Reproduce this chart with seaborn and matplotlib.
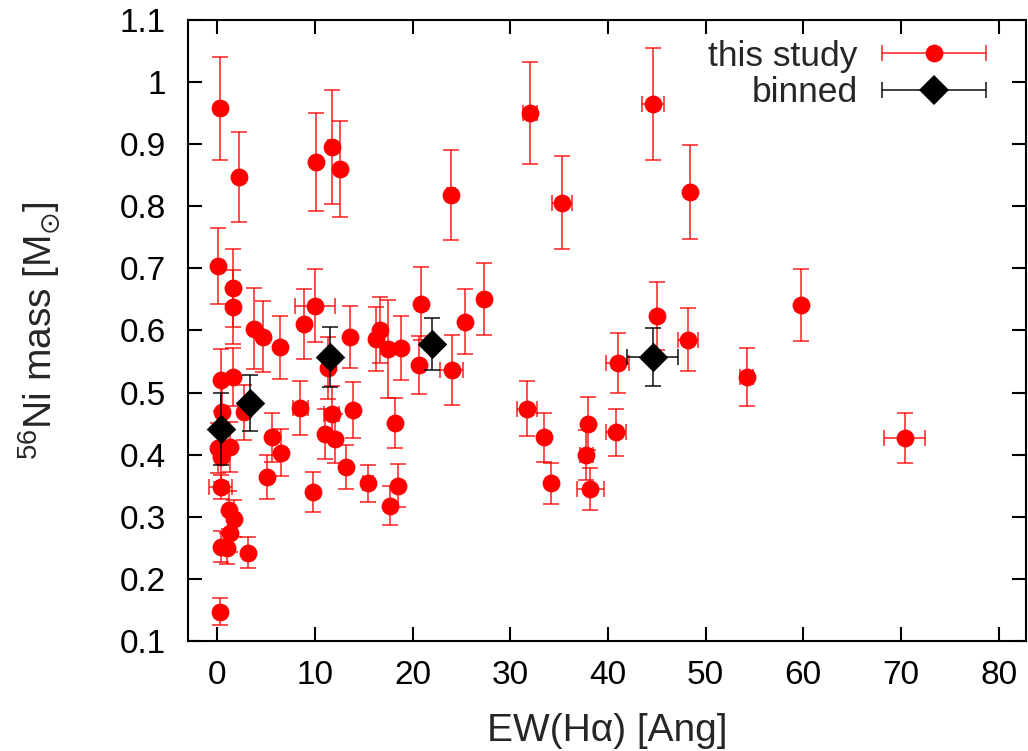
import matplotlib
matplotlib.use("Agg")
import numpy as np
import pandas as pd
import matplotlib.pyplot as plt
import seaborn as sns
from matplotlib.container import ErrorbarContainer
from matplotlib.legend_handler import HandlerErrorbar
from matplotlib.lines import Line2D
from matplotlib.ticker import FuncFormatter

# ---------------------------------------------------------------------------
# Data
# ---------------------------------------------------------------------------

ew = [
    0.3, 2.2, 10.1, 11.7, 12.6, 23.9, 32.0, 35.3, 44.6, 48.4,
    0.05, 1.6, 1.6, 3.8, 4.7, 6.4, 8.9, 10.0, 13.6, 16.2,
    16.7, 17.5, 18.8, 20.9, 20.7, 24.0, 25.4, 27.3, 11.3, 0.35,
    1.6, 8.5, 0.5, 2.7, 0.1, 1.3, 0.4, 5.6, 6.5, 5.1,
    9.8, 0.35, 1.2, 1.7, 1.3, 0.35, 0.95, 3.1, 0.25, 11.7,
    13.9, 11.0, 12.1, 13.2, 18.2, 15.4, 18.5, 17.7, 31.7, 33.5,
    34.2, 38.0, 37.8, 38.2, 40.8, 41.0, 45.0, 48.2, 54.2, 59.8,
    70.4,
]
ni = [
    0.958, 0.847, 0.871, 0.896, 0.860, 0.818, 0.950, 0.806, 0.965, 0.823,
    0.704, 0.668, 0.638, 0.603, 0.590, 0.573, 0.610, 0.640, 0.590, 0.586,
    0.601, 0.570, 0.572, 0.643, 0.544, 0.536, 0.614, 0.651, 0.540, 0.520,
    0.525, 0.475, 0.469, 0.468, 0.411, 0.412, 0.396, 0.428, 0.403, 0.364,
    0.340, 0.348, 0.311, 0.297, 0.274, 0.252, 0.249, 0.242, 0.147, 0.466,
    0.472, 0.433, 0.426, 0.380, 0.451, 0.354, 0.350, 0.318, 0.474, 0.428,
    0.354, 0.450, 0.400, 0.345, 0.436, 0.548, 0.623, 0.585, 0.525, 0.641,
    0.427,
]
ew_err = [
    0.2, 0.3, 0.2, 0.4, 0.2, 0.4, 0.7, 1.0, 1.1, 0.2,
    0.2, 0.2, 0.2, 0.2, 0.2, 0.2, 0.2, 2.0, 0.2, 0.2,
    0.2, 0.2, 0.2, 0.2, 0.2, 1.2, 0.2, 0.2, 0.2, 0.2,
    0.2, 0.8, 0.2, 0.2, 0.2, 0.2, 0.2, 0.2, 0.2, 0.2,
    0.2, 1.2, 0.2, 0.2, 0.2, 0.2, 0.2, 0.2, 0.2, 0.8,
    0.2, 0.2, 0.2, 0.2, 0.2, 0.5, 0.2, 0.2, 1.0, 0.2,
    0.2, 0.2, 0.7, 1.4, 1.0, 1.2, 0.2, 1.0, 0.7, 0.2,
    2.1,
]
ni_err = [
    0.083, 0.073, 0.079, 0.092, 0.077, 0.072, 0.082, 0.075, 0.090, 0.075,
    0.061, 0.063, 0.060, 0.065, 0.057, 0.051, 0.056, 0.059, 0.050, 0.052,
    0.053, 0.079, 0.051, 0.059, 0.047, 0.056, 0.052, 0.058, 0.050, 0.050,
    0.047, 0.044, 0.050, 0.045, 0.040, 0.040, 0.040, 0.039, 0.038, 0.036,
    0.032, 0.020, 0.030, 0.030, 0.030, 0.025, 0.025, 0.025, 0.022, 0.045,
    0.045, 0.040, 0.040, 0.035, 0.040, 0.030, 0.035, 0.032, 0.044, 0.039,
    0.033, 0.043, 0.040, 0.034, 0.038, 0.048, 0.055, 0.051, 0.047, 0.058,
    0.040,
]

bin_ew = [0.35, 3.3, 11.5, 22.0, 44.6]
bin_ni = [0.441, 0.483, 0.557, 0.578, 0.557]
bin_ew_err = [0.3, 0.2, 0.2, 0.2, 2.6]
bin_ni_err = [0.058, 0.045, 0.048, 0.042, 0.047]

RED = "#ff0000"
TICK_FS = 24
LABEL_FS = 28
LEGEND_FS = 25.5

df = pd.DataFrame({"ew": ew, "ni": ni, "ew_err": ew_err, "ni_err": ni_err})
df_bin = pd.DataFrame({"ew": bin_ew, "ni": bin_ni,
                       "ew_err": bin_ew_err, "ni_err": bin_ni_err})

sns.set_theme(style="ticks")
plt.rcParams["font.family"] = ["Liberation Sans", "DejaVu Sans"]
plt.rcParams["mathtext.default"] = "regular"

fig = plt.figure(figsize=(10.28, 7.51), dpi=100)
ax = fig.add_axes([0.1829, 0.1465, 0.8151, 0.8269])

# error bars first, markers on top
eb_red = ax.errorbar(df["ew"], df["ni"], xerr=df["ew_err"], yerr=df["ni_err"],
                     fmt="none", ecolor=RED, elinewidth=1.3, capsize=5.5,
                     capthick=1.3, alpha=0.75, zorder=2)
sns.scatterplot(data=df, x="ew", y="ni", color=RED, s=165, marker="o",
                linewidth=0, ax=ax, zorder=3, legend=False)

eb_bin = ax.errorbar(df_bin["ew"], df_bin["ni"], xerr=df_bin["ew_err"],
                     yerr=df_bin["ni_err"], fmt="none", ecolor="black",
                     elinewidth=1.3, capsize=5.5, capthick=1.3, alpha=0.8,
                     zorder=4)
sns.scatterplot(data=df_bin, x="ew", y="ni", color="black", s=225, marker="D",
                linewidth=0, ax=ax, zorder=5, legend=False)

ax.set_xlim(-3, 82.8)
ax.set_ylim(0.1, 1.1)
ax.set_xticks(np.arange(0, 81, 10))
ax.set_yticks(np.arange(0.1, 1.101, 0.1))
ax.yaxis.set_major_formatter(FuncFormatter(lambda v, _: f"{v:g}"))
ax.tick_params(direction="in", top=True, right=True, length=10, width=1.5,
               labelsize=TICK_FS, color="black", labelcolor="black")
ax.tick_params(axis="x", pad=14)
ax.tick_params(axis="y", pad=16)
for sp in ax.spines.values():
    sp.set_linewidth(1.5)
    sp.set_color("black")

ax.set_xlabel("EW(H\u03b1) [Ang]", fontsize=LABEL_FS, labelpad=15.5)
ax.set_ylabel("$^{56}$Ni mass [M$_{\\odot}$]", fontsize=LABEL_FS, labelpad=41)

# legend: gnuplot-style samples (horizontal bar with caps, marker centred)
red_mk = Line2D([], [], ls="none", marker="o", ms=12.8, color=RED, mew=0)
blk_mk = Line2D([], [], ls="none", marker="D", ms=15, color="black", mew=0)
h_red = ErrorbarContainer((red_mk, eb_red.lines[1], eb_red.lines[2]),
                          has_xerr=True, has_yerr=False, label="this study")
h_blk = ErrorbarContainer((blk_mk, eb_bin.lines[1], eb_bin.lines[2]),
                          has_xerr=True, has_yerr=False, label="binned")
ax.legend(handles=[h_red, h_blk], labels=["this study", "binned"],
          loc="upper right", bbox_to_anchor=(0.952, 0.968), frameon=False,
          markerfirst=False, handlelength=2.94, handletextpad=0.68,
          labelspacing=0.09, borderpad=0, borderaxespad=0, fontsize=LEGEND_FS,
          handler_map={ErrorbarContainer: HandlerErrorbar(xerr_size=1.47)})

fig.savefig("out.png", dpi=100)
